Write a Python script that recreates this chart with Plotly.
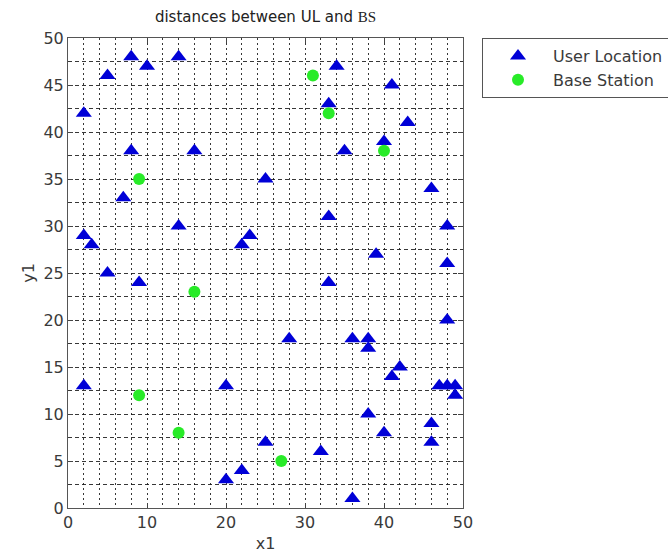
import plotly.graph_objects as go

# User Location (triangles)
ul_x = [2, 5, 8, 10, 14, 8, 16, 7, 2, 3, 14, 25, 22, 23, 5, 9, 2, 20, 28, 25,
        22, 20, 32, 34, 33, 41, 43, 35, 40, 33, 39, 33, 46, 48, 48, 48, 36, 38,
        38, 41, 42, 47, 48, 49, 49, 38, 40, 46, 46, 36]
ul_y = [42, 46, 48, 47, 48, 38, 38, 33, 29, 28, 30, 35, 28, 29, 25, 24, 13, 13, 18, 7,
        4, 3, 6, 47, 43, 45, 41, 38, 39, 31, 27, 24, 34, 30, 26, 20, 18, 18,
        17, 14, 15, 13, 13, 13, 12, 10, 8, 9, 7, 1]

# Base Station (circles)
bs_x = [31, 33, 40, 9, 16, 9, 14, 27]
bs_y = [46, 42, 38, 35, 23, 12, 8, 5]

FONT = "DejaVu Sans"

fig = go.Figure()
fig.add_trace(go.Scatter(
    x=ul_x, y=ul_y, mode="markers", name="User Location",
    marker=dict(symbol="triangle-up", size=14, color="rgb(0,0,215)",
                line=dict(width=0)),
))
fig.add_trace(go.Scatter(
    x=bs_x, y=bs_y, mode="markers", name="Base Station",
    marker=dict(symbol="circle", size=12, color="rgb(40,235,40)",
                line=dict(width=0)),
))

grid_col = "rgba(20,20,20,0.85)"
fig.update_layout(
    width=668, height=558,
    margin=dict(l=68, r=205, t=38, b=50, autoexpand=False),
    paper_bgcolor="white", plot_bgcolor="white",
    font=dict(family=FONT, size=16, color="#3a3a3a"),
    title=dict(
        text="distances between UL and <span style='font-family:Liberation Serif'>BS</span>",
        x=0.5, xref="paper", xanchor="center",
        y=1 - 17 / 558, yref="container", yanchor="middle",
        font=dict(family=FONT, size=15, color="#222222"),
    ),
    xaxis=dict(
        range=[0, 50], dtick=10, tick0=0,
        showgrid=True, gridcolor=grid_col, gridwidth=1, griddash="2px,3px",
        minor=dict(dtick=2, tick0=0, showgrid=True, gridcolor=grid_col,
                   gridwidth=1, griddash="2px,3px", ticks=""),
        ticks="inside", ticklen=5, tickcolor="#444",
        showline=True, linecolor="#555", linewidth=1, mirror="allticks",
        zeroline=False,
        title=dict(text="x1", standoff=6, font=dict(size=16, color="#3a3a3a")),
    ),
    yaxis=dict(
        range=[0, 50], dtick=5, tick0=0,
        showgrid=True, gridcolor=grid_col, gridwidth=1, griddash="4px,3px",
        minor=dict(dtick=2.5, tick0=0, showgrid=True, gridcolor=grid_col,
                   gridwidth=1, griddash="4px,3px", ticks=""),
        ticks="inside", ticklen=5, tickcolor="#444",
        showline=True, linecolor="#555", linewidth=1, mirror="allticks",
        zeroline=False,
        title=dict(text="y1", standoff=4, font=dict(size=16, color="#3a3a3a")),
    ),
    legend=dict(
        x=(482 - 68) / 395, y=1, xref="paper", yref="paper",
        xanchor="left", yanchor="top",
        bordercolor="#555", borderwidth=1, bgcolor="white",
        itemwidth=60,
        font=dict(family=FONT, size=16, color="#3a3a3a"),
    ),
)

fig.write_html(
    "out.html",
    config={"displayModeBar": False},
    post_script="document.body.style.margin='0';document.body.style.overflow='hidden';",
)
